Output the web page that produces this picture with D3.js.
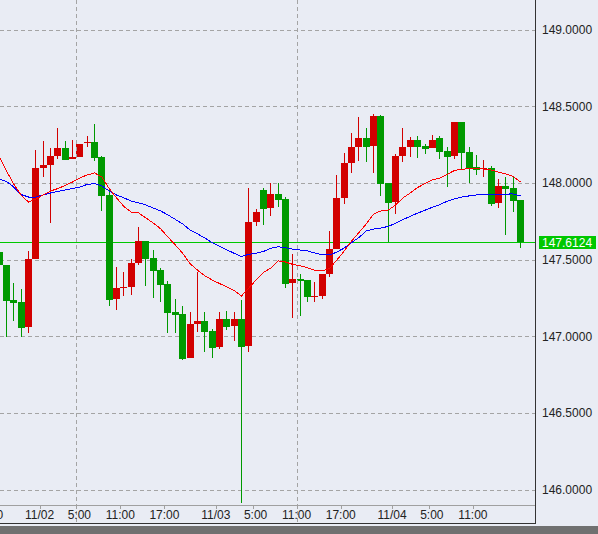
<!DOCTYPE html>
<html><head><meta charset="utf-8">
<script src="https://cdn.jsdelivr.net/npm/d3@7"></script>
<style>body{margin:0;background:#e9ecf4;overflow:hidden}svg{display:block}</style>
</head><body><svg id="c" width="598" height="534"></svg>
<script>
// hourly USD/JPY candles, first entry = 11/01 18:00, then hourly
const open = [147.549,147.464,147.236,147.223,147.062,147.504,148.097,148.117,148.176,148.228,148.156,148.169,148.264,148.267,148.169,147.921,147.245,147.314,147.323,147.478,147.621,147.510,147.432,147.341,147.158,147.145,146.860,147.082,147.099,147.034,146.932,147.112,147.069,147.112,146.938,147.747,147.954,147.838,147.928,147.895,147.349,147.375,147.367,147.258,147.264,147.406,147.569,147.902,148.130,148.234,148.293,148.241,148.436,147.999,147.875,148.176,148.234,148.280,148.241,148.228,148.293,148.208,148.176,148.397,148.202,148.104,148.094,148.097,147.869,147.980,147.967,147.888];
const close = [147.464,147.232,147.219,147.055,147.504,148.097,148.117,148.176,148.228,148.149,148.169,148.254,148.270,148.162,147.915,147.238,147.314,147.321,147.478,147.621,147.506,147.427,147.336,147.153,147.140,146.853,147.080,147.099,147.029,146.925,147.112,147.062,147.112,146.932,147.745,147.810,147.832,147.928,147.888,147.342,147.375,147.362,147.258,147.264,147.408,147.569,147.902,148.130,148.234,148.293,148.234,148.436,147.993,147.869,148.176,148.234,148.280,148.234,148.221,148.280,148.202,148.169,148.397,148.195,148.097,148.084,148.100,147.862,147.980,147.960,147.882,147.6124];
const high = [147.562,147.464,147.347,147.308,147.556,148.215,148.273,148.228,148.358,148.273,148.280,148.254,148.306,148.384,148.176,147.954,147.451,147.419,147.504,147.712,147.621,147.562,147.447,147.362,147.243,147.197,147.158,147.419,147.158,147.047,147.158,147.164,147.158,147.236,147.967,147.830,147.967,147.999,147.999,147.908,147.536,147.408,147.367,147.356,147.408,147.686,148.052,148.195,148.326,148.430,148.358,148.449,148.443,147.999,148.189,148.358,148.299,148.306,148.254,148.312,148.306,148.234,148.397,148.397,148.234,148.182,148.149,148.110,148.025,148.039,148.039,147.888];
const low = [147.445,146.995,147.101,146.997,147.023,147.504,148.039,147.740,148.158,148.149,148.156,148.169,148.234,148.143,147.817,147.199,147.173,147.262,147.271,147.466,147.329,147.251,147.225,147.023,147.023,146.845,146.860,147.029,146.899,146.860,146.918,147.042,146.971,145.912,146.899,147.721,147.727,147.786,147.845,147.316,147.121,147.134,147.225,147.225,147.245,147.386,147.569,147.864,148.065,148.143,148.136,148.065,147.915,147.615,147.799,148.136,148.169,148.162,148.189,148.228,148.156,147.973,148.156,148.084,147.999,148.052,148.040,147.849,147.836,147.660,147.810,147.575];
const maShort = [148.176,148.078,147.993,147.921,147.875,147.895,147.921,147.947,147.963,147.983,148.006,148.032,148.052,148.065,148.039,147.963,147.902,147.846,147.810,147.804,147.771,147.738,147.701,147.647,147.595,147.541,147.473,147.432,147.395,147.367,147.344,147.322,147.299,147.262,147.314,147.367,147.416,147.445,147.491,147.484,147.468,147.460,147.447,147.429,147.425,147.442,147.497,147.556,147.621,147.676,147.732,147.797,147.817,147.823,147.856,147.902,147.934,147.970,147.996,148.019,148.032,148.055,148.081,148.089,148.093,148.093,148.091,148.084,148.071,148.058,148.042,148.006];
const maLong = [148.025,148.009,147.973,147.924,147.908,147.908,147.921,147.934,147.944,147.954,147.963,147.973,147.990,147.996,147.980,147.947,147.921,147.902,147.882,147.870,147.856,147.836,147.817,147.791,147.762,147.732,147.693,147.668,147.641,147.611,147.586,147.564,147.541,147.520,147.534,147.541,147.553,147.573,147.584,147.577,147.568,147.562,147.556,147.543,147.530,147.530,147.549,147.575,147.610,147.644,147.686,147.699,147.706,147.716,147.737,147.761,147.782,147.803,147.822,147.841,147.858,147.880,147.895,147.908,147.915,147.921,147.924,147.926,147.926,147.927,147.928,147.915];
const timeLabels = ["17:00","11/02","5:00","11:00","17:00","11/03","5:00","11:00","17:00","11/04","5:00","11:00"];
const timeLabelIndex = [-2,5,10,16,22,29,34,40,46,53,58,64];
const gridIndex = [10,40];
const priceTicks = [146.0,146.5,147.0,147.5,148.0,148.5,149.0];
const lastPrice = 147.6124;

const svg = d3.select("#c");
const plotR = 535, axisY = 505, frameB = 523;
const x = d3.scaleLinear().domain([0,70]).range([2.9, 516.98]);
const y = d3.scaleLinear().domain([146,149]).range([489.5, 29.6]);
const idx = d3.range(-1, 71);
const FONT = "'Liberation Sans', Arial, sans-serif";

svg.append("rect").attr("width",598).attr("height",534).attr("fill","#e9ecf4");

const clip = svg.append("clipPath").attr("id","pc").append("rect").attr("x",0).attr("y",0).attr("width",plotR).attr("height",axisY);
const g = svg.append("g").attr("clip-path","url(#pc)");

// grid
g.selectAll(".hg").data(priceTicks).join("line")
  .attr("x1",0).attr("x2",plotR).attr("y1",d=>Math.round(y(d))+0.5).attr("y2",d=>Math.round(y(d))+0.5)
  .attr("stroke","#a4a4a4").attr("stroke-dasharray","4,3");
svg.selectAll(".vg").data(gridIndex).join("line")
  .attr("x1",d=>Math.round(x(d))+0.5).attr("x2",d=>Math.round(x(d))+0.5).attr("y1",0).attr("y2",frameB)
  .attr("stroke","#a4a4a4").attr("stroke-dasharray","4,3");

// current price line
g.append("line").attr("x1",0).attr("x2",plotR).attr("y1",Math.round(y(lastPrice))+0.5).attr("y2",Math.round(y(lastPrice))+0.5)
  .attr("stroke","#00c800").attr("stroke-width",1);

// candles
const up = i => close[i] >= open[i];
const cg = g.append("g").attr("shape-rendering","crispEdges");
idx.forEach((t,k)=>{
  const col = up(k) ? "#d20000" : "#009900";
  const left = Math.round(x(t));
  cg.append("rect").attr("x",left+3).attr("width",1)
    .attr("y",Math.round(y(high[k]))).attr("height",Math.max(1,Math.round(y(low[k]))-Math.round(y(high[k]))))
    .attr("fill",col);
  const top = Math.round(y(Math.max(open[k],close[k])));
  const bot = Math.round(y(Math.min(open[k],close[k])));
  cg.append("rect").attr("x",left).attr("width",7).attr("y",top).attr("height",Math.max(1,bot-top)).attr("fill",col);
});

// moving averages
const line = arr => d3.line().x((d,k)=>x(idx[k])+3.5).y(d=>y(d))(arr);
g.append("path").attr("d",line(maLong)).attr("fill","none").attr("stroke","#0000ff").attr("stroke-width",1).attr("shape-rendering","crispEdges");
g.append("path").attr("d",line(maShort)).attr("fill","none").attr("stroke","#ff0000").attr("stroke-width",1).attr("shape-rendering","crispEdges");

// axis line & frame
svg.append("line").attr("x1",0).attr("x2",plotR).attr("y1",axisY+0.5).attr("y2",axisY+0.5).attr("stroke","#a0a0a0");
svg.append("line").attr("x1",0).attr("x2",plotR+1).attr("y1",frameB+0.5).attr("y2",frameB+0.5).attr("stroke","#333");
svg.append("line").attr("x1",plotR+0.5).attr("x2",plotR+0.5).attr("y1",0).attr("y2",frameB+1).attr("stroke","#333");

// x ticks & labels
svg.selectAll(".xt").data(timeLabelIndex).join("line")
  .attr("x1",d=>Math.round(x(d))+0.5).attr("x2",d=>Math.round(x(d))+0.5).attr("y1",axisY).attr("y2",axisY+4).attr("stroke","#a0a0a0");
svg.selectAll(".xl").data(timeLabels).join("text")
  .attr("x",(d,k)=>x(timeLabelIndex[k]) + (5-d.length)*3).attr("y",519)
  .attr("text-anchor","middle").attr("font-family",FONT).attr("font-size",12).attr("fill","#222").text(d=>d);

// price labels
svg.selectAll(".yl").data(priceTicks).join("text")
  .attr("x",542).attr("y",d=>y(d)+4.5).attr("font-family",FONT).attr("font-size",12).attr("fill","#222")
  .text(d=>d.toFixed(4));

// last price tag
const ly = y(lastPrice);
svg.append("rect").attr("x",539).attr("y",Math.round(ly)-6).attr("width",57).attr("height",13).attr("fill","#00c800");
svg.append("text").attr("x",542).attr("y",ly+4.5).attr("font-family",FONT).attr("font-size",12).attr("fill","#fff").text(lastPrice.toFixed(4));

// bottom band
svg.append("rect").attr("x",0).attr("y",526).attr("width",598).attr("height",8).attr("fill","#707070");
</script></body></html>
